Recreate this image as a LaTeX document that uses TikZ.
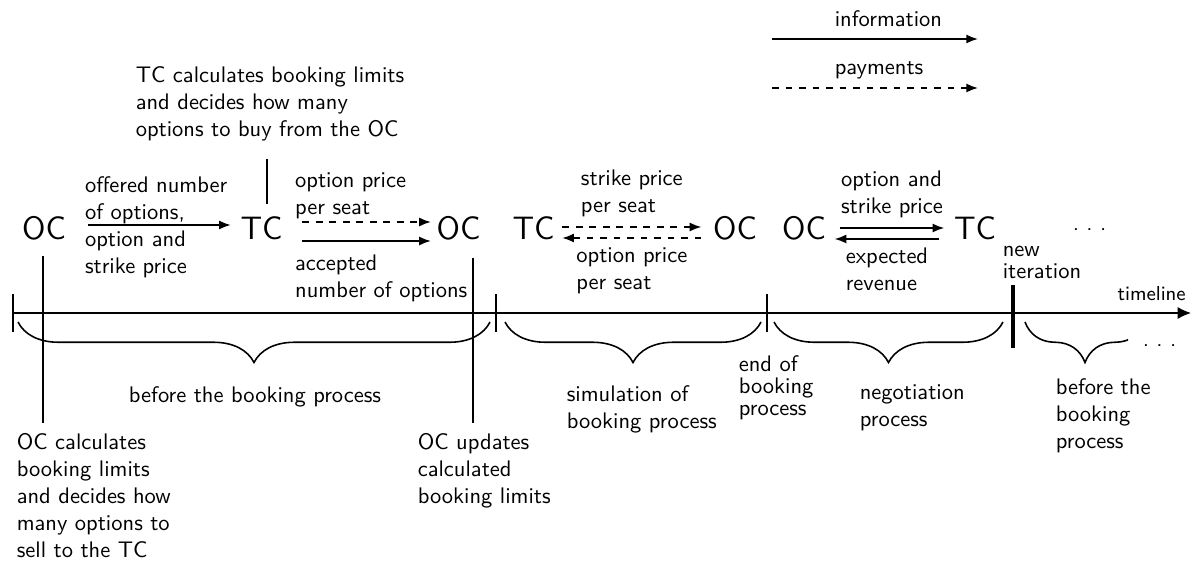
\documentclass[tikz,border=0pt]{standalone}
\usepackage{tikz}
\usetikzlibrary{arrows.meta,decorations.pathreplacing}
\renewcommand{\familydefault}{\sfdefault}
\newcommand{\widedots}{.\hspace{3.3pt}.\hspace{3.3pt}.}
\tikzset{>={Latex[length=5.2pt,width=4pt]},
         actor/.style={font=\Large, inner sep=0pt},
         lab/.style={align=left, inner sep=1pt},
         note/.style={align=left, inner sep=4pt, anchor=north west},
         closelines/.style={font=\linespread{0.82}\selectfont},
         info/.style={->},
         pay/.style={->, dashed},
         brc/.style={decorate, decoration={brace, mirror, amplitude=18pt}}}

\begin{document}
\begin{tikzpicture}[x=0.4444pt, y=-0.4444pt, line width=0.7pt]
  \useasboundingbox (0,0) rectangle (1192,567);
  % legend
  \coordinate (li0) at (772,39);  \coordinate (li1) at (978,39);
  \coordinate (lp0) at (772,88);  \coordinate (lp1) at (978,88);
  \draw[info] (li0) -- node[pos=0.29, lab, anchor=south west, yshift=3.9pt] {information} (li1);
  \draw[pay] (lp0) -- node[pos=0.29, lab, anchor=south west, yshift=2.6pt] {payments} (lp1);

  % carriers
  \node[actor] (oc1) at (44,228) {OC};
  \node[actor] (tc1) at (261.5,228) {TC};
  \node[actor] (oc2) at (458.5,228) {OC};
  \node[actor] (tc2) at (533.5,228) {TC};
  \node[actor] (oc3) at (735,228) {OC};
  \node[actor] (oc4) at (804,228) {OC};
  \node[actor] (tc3) at (975,228) {TC};
  \node[anchor=base west, inner sep=0pt] (more1) at (1072,231) {\widedots};

  % flows
  \draw[info] ([shift={(21,-3)}]oc1.east) --
    node[pos=0, lab, anchor=west, xshift=-2.5pt, yshift=-0.9pt] {offered number\\of options,\\option and\\strike price}
    ([shift={(-9,-3)}]tc1.west);
  \draw[pay] ([shift={(19,-6)}]tc1.east) --
    node[pos=0, lab, anchor=south west, xshift=-4.5pt] {option price\\per seat}
    ([shift={(-5,-6)}]oc2.west);
  \draw[info] ([shift={(19,13)}]tc1.east) --
    node[pos=0, lab, anchor=north west, xshift=-4.5pt, yshift=-5pt] {accepted\\number of options}
    ([shift={(-5,13)}]oc2.west);
  \draw[pay] ([shift={(7,-1)}]tc2.east) --
    node[midway, lab, above=3pt] {strike price\\per seat}
    ([shift={(-11,-1)}]oc3.west);
  \draw[pay] ([shift={(-11,10)}]oc3.west) --
    node[midway, lab, below=3pt] {option price\\per seat}
    ([shift={(7,10)}]tc2.east);
  \draw[info] ([shift={(13,0)}]oc4.east) --
    node[midway, lab, above=3.3pt] {option and\\strike price}
    ([shift={(-9,0)}]tc3.west);
  \draw[info] ([shift={(-14,11)}]tc3.west) --
    node[midway, lab, below=2.5pt] {expected\\revenue}
    ([shift={(8,11)}]oc4.east);

  % timeline
  \coordinate (t0) at (13,313);
  \coordinate (t1) at (1191,313);
  \draw[-{Latex[length=6pt,width=5.5pt]}] (t0) -- node[pos=1, lab, anchor=south east, font=\small, yshift=3.9pt, xshift=-1pt] {timeline} (t1);
  \foreach \x in {13,496,767}
    \draw (\x,294) -- (\x,332);
  \draw[line width=2.2pt] (1013,285) -- (1013,348);

  % phases
  \draw[brc] (18,322) -- (490,322);
  \draw[brc] (505,322) -- (761,322);
  \draw[brc] (774,322) -- (1003,322);
  \begin{scope}
    \clip (1015,300) rectangle (1128,380);
    \draw[brc] (1025,322) -- (1145,322);
  \end{scope}
  \node[anchor=base west, inner sep=0pt] (more2) at (1142,346) {\widedots};

  \node[anchor=base] (before1) at (255,402.6) {before the booking process};
  \node[note] (simul) at (557,375.4) {simulation of\\booking process};
  \node[note] (nego) at (850,374.5) {negotiation\\process};
  \node[note] (before2) at (1046,368.4) {before the\\booking\\process};
  \node[note, closelines] (endbook) at (729,345.4) {end of\\booking\\process};
  \node[note, closelines] (newit) at (993,236) {new\\iteration};

  % events
  \node[note] (tcnote) at (126,56.4) {TC calculates booking limits\\and decides how many\\options to buy from the OC};
  \node[note] (ocnote) at (7,423.4) {OC calculates\\booking limits\\and decides how\\many options to\\sell to the TC};
  \node[note] (updnote) at (408,423.4) {OC updates\\calculated\\booking limits};
  \coordinate (ev1) at (43,256);
  \coordinate (ev2) at (267,204);
  \coordinate (ev3) at (473,258);
  \draw (ev1) -- (ev1 |- ocnote.north);
  \draw[shorten >=3.8pt] (ev2) -- (ev2 |- tcnote.south);
  \draw (ev3) -- (ev3 |- updnote.north);
\end{tikzpicture}
\end{document}
